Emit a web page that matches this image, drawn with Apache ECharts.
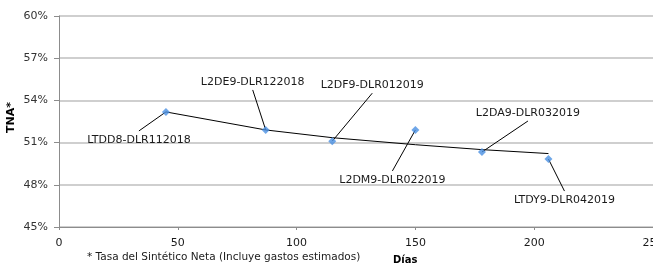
<!DOCTYPE html>
<html>
<head>
<meta charset="utf-8">
<script src="https://cdn.jsdelivr.net/npm/echarts@6/dist/echarts.min.js"></script>
<style>
  html, body { margin: 0; padding: 0; background: #fff; }
  #chart { width: 653px; height: 269px; }
</style>
</head>
<body>
<div id="chart"></div>
<script>
// plazo (dias) y TNA de cada sintetico
const names = ['LTDD8-DLR112018', 'L2DE9-DLR122018', 'L2DF9-DLR012019', 'L2DM9-DLR022019', 'L2DA9-DLR032019', 'LTDY9-DLR042019']
const days = [45, 87, 115, 150, 178, 206]
const tna = [53.18, 51.9, 51.1, 51.9, 50.33, 49.83]
// linea de tendencia
const trend = [53.18, 51.9, 51.35, 50.85, 50.5, 50.22]

const xTicks = [0, 50, 100, 150, 200, 250]
const yTicks = [45, 48, 51, 54, 57, 60]

// desplazamiento de cada etiqueta respecto del punto (px)
const labelOffset = [[-27, 28], [-13, -48], [40, -56], [-23, 50], [46, -39], [16, 41]]

const chart = echarts.init(document.getElementById('chart'))
const txt = '#1a1a1a'

chart.setOption({
  animation: false,
  grid: { left: 59, right: 0, top: 16, bottom: 42, outerBoundsMode: 'none', containLabel: false },
  xAxis: {
    type: 'value',
    min: xTicks[0], max: xTicks[xTicks.length - 1], interval: 50,
    axisLine: { lineStyle: { color: '#8c8c8c' } },
    axisTick: { show: true, length: 3, lineStyle: { color: '#8c8c8c' } },
    axisLabel: { color: txt, fontFamily: 'DejaVu Sans', fontSize: 11, margin: 11 },
    splitLine: { show: false }
  },
  yAxis: {
    type: 'value',
    min: yTicks[0], max: yTicks[yTicks.length - 1], interval: 3,
    axisLine: { show: true, lineStyle: { color: '#8c8c8c' } },
    axisTick: { show: true, length: 5, lineStyle: { color: '#8c8c8c' } },
    axisLabel: { color: '#333', fontFamily: 'DejaVu Sans', fontSize: 11, margin: 11, formatter: '{value}%' },
    splitLine: { lineStyle: { color: '#bfbfbf', width: 1.5 } }
  },
  graphic: [
    { type: 'text', x: 6, y: 133, rotation: Math.PI / 2,
      style: { text: 'TNA*', font: 'bold 11px DejaVu Sans', fill: '#000' } },
    { type: 'text', left: 393, top: 255,
      style: { text: 'Días', font: 'bold 10px DejaVu Sans', fill: '#000' } },
    { type: 'text', left: 87, top: 252,
      style: { text: '* Tasa del Sintético Neta (Incluye gastos estimados)', font: '10.5px DejaVu Sans', fill: txt } }
  ],
  series: [
    {
      type: 'line',
      data: days.map((d, i) => [d, trend[i]]),
      showSymbol: false,
      symbol: 'none',
      lineStyle: { color: '#000', width: 1 },
      z: 1
    },
    {
      // etiquetas con linea guia
      type: 'custom',
      data: days.map((d, i) => [d, tna[i], i]),
      z: 2,
      silent: true,
      renderItem: function (params, api) {
        const i = api.value(2)
        const p = api.coord([api.value(0), api.value(1)])
        const off = labelOffset[i]
        const lx = p[0] + off[0]
        const ly = p[1] + off[1]
        const endY = off[1] > 0 ? ly - 9 : ly + 8
        return {
          type: 'group',
          children: [
            { type: 'line', shape: { x1: p[0], y1: p[1], x2: lx, y2: endY },
              style: { stroke: '#000', lineWidth: 1 } },
            { type: 'text', x: lx, y: ly,
              style: { text: names[i], font: '11px DejaVu Sans', fill: txt, align: 'center', verticalAlign: 'middle' } }
          ]
        }
      }
    },
    {
      type: 'scatter',
      data: days.map((d, i) => [d, tna[i]]),
      symbol: 'diamond',
      symbolSize: 8,
      itemStyle: { color: '#4a90e2' },
      z: 3
    }
  ]
})
</script>
</body>
</html>
